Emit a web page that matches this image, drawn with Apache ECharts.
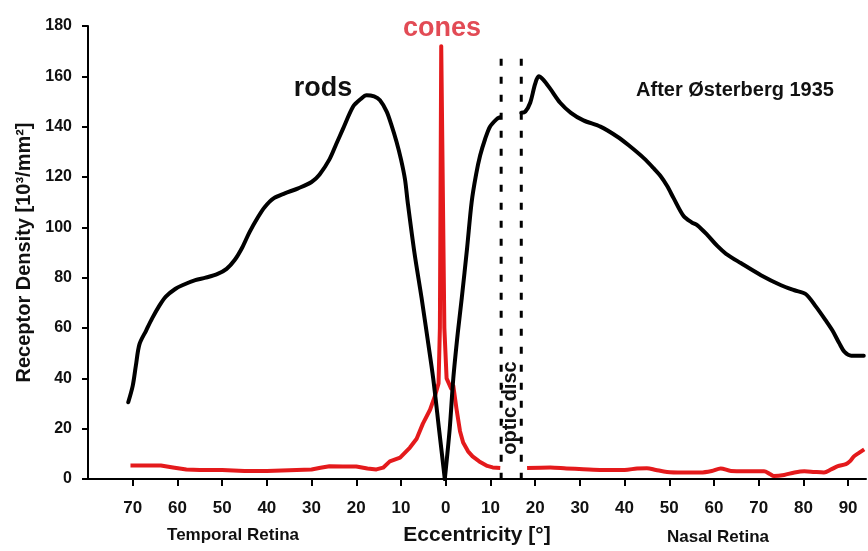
<!DOCTYPE html>
<html>
<head>
<meta charset="utf-8">
<script src="https://cdn.jsdelivr.net/npm/echarts@6/dist/echarts.min.js"></script>
<style>
html,body{margin:0;padding:0;background:#fff;}
#chart{width:868px;height:551px;}
</style>
</head>
<body>
<div id="chart"></div>
<script>
// Eccentricity in degrees: temporal retina negative, nasal retina positive
var xTicks = [-70, -60, -50, -40, -30, -20, -10, 0, 10, 20, 30, 40, 50, 60, 70, 80, 90];
var yTicks = [0, 20, 40, 60, 80, 100, 120, 140, 160, 180];

// Rods density [10^3/mm^2]
var rodsTemporal = [
  [-71, 30.5], [-70, 37], [-69.3, 45], [-68.5, 53.5], [-67, 59], [-65.6, 64], [-64, 69],
  [-62.6, 72.5], [-60.5, 75.5], [-58.9, 77], [-56, 79], [-53.7, 80], [-51, 81.5],
  [-49, 83.5], [-47.2, 87], [-45.5, 92], [-43.9, 98], [-42, 104], [-40.5, 108],
  [-38.5, 111.5], [-36, 113.5], [-33, 115.5], [-30, 118], [-28.2, 121], [-26, 127],
  [-24.5, 133], [-23, 139], [-20.7, 148], [-19, 151], [-17.7, 152.5], [-16, 152],
  [-14.7, 150.5], [-13.2, 146], [-12.2, 141], [-11, 134], [-10, 127], [-9.1, 119],
  [-8.5, 110], [-7, 90], [-5.4, 72], [-4, 55], [-2.8, 40], [-1.5, 20], [-0.2, 0]
];
var rodsFoveaNasal = [
  [-0.2, 0], [0.9, 20], [1.7, 40], [2.7, 58], [3.6, 72], [4.8, 92], [5.8, 110],
  [6.8, 121], [7.7, 128.5], [8.8, 135], [9.9, 140], [11.4, 143], [12.1, 143.7]
];
var rodsNasal = [
  [16.9, 145.5], [17.8, 146], [18.9, 149.5], [20, 157], [20.8, 160], [21.8, 158.7],
  [23.4, 155], [25.6, 149.5], [28, 145.5], [30.8, 142.5], [34.6, 140], [38.4, 136],
  [41, 132.5], [44.3, 127.5], [46.5, 123.5], [48, 120.5], [49.5, 116.5], [51, 111.5],
  [53.2, 104.5], [55, 102], [56.3, 100.8], [58.5, 97], [60.8, 92.5], [62.7, 89.5],
  [66, 85.8], [70.5, 81], [75, 77], [78, 75], [80.5, 73.5], [82.8, 68.5], [85, 63],
  [86.5, 59], [88, 54], [89.2, 50.5], [90.7, 49], [93.5, 49]
];

// Cones density [10^3/mm^2]
var conesTemporal = [
  [-70.5, 5.4], [-67, 5.4], [-63.7, 5.4], [-61, 4.6], [-58, 3.8], [-55, 3.6], [-50, 3.6],
  [-45, 3.2], [-40, 3.2], [-35, 3.5], [-30, 3.8], [-28, 4.5], [-26, 5.1], [-23, 5.0],
  [-20, 5.0], [-17.5, 4.2], [-15.5, 3.8], [-14, 4.5], [-12.5, 7], [-10.2, 8.5],
  [-8, 12.5], [-6.5, 16], [-5.1, 22], [-3.5, 27.5], [-2.4, 33], [-1.6, 38], [-1.3, 60],
  [-1.0, 172], [-0.6, 172], [-0.3, 60], [0.2, 40], [1.2, 36], [1.7, 37], [2.4, 28], [3.2, 19],
  [3.9, 14.5], [5, 11], [6, 9], [7.5, 7], [9.3, 5.2], [10.5, 4.6], [12.2, 4.4]
];
var conesNasal = [
  [18.2, 4.4], [23.4, 4.6], [27, 4.2], [30.8, 3.9], [35, 3.6], [40, 3.6], [42.8, 4.2],
  [45, 4.3], [47, 3.6], [49.5, 2.8], [53, 2.6], [57, 2.6], [59.5, 3.2], [61.5, 4.2],
  [63.8, 3.2], [67, 3.1], [71.2, 3.1], [72.5, 2], [73.4, 1.2], [75.7, 1.6], [78, 2.6],
  [80.2, 3.1], [82.5, 2.8], [84.6, 2.6], [86.2, 3.8], [87.7, 5.1], [89.5, 5.9],
  [90.5, 7.2], [91.3, 9], [92.5, 10.5], [93.6, 11.8]
];

// Optic disc edges (degrees) and height of the dotted marker lines
var opticDiscEdges = [12.4, 16.9];
var opticDiscTop = 167;

var FONT = 'Liberation Sans, Arial, Helvetica, sans-serif';
var chart = echarts.init(document.getElementById('chart'), null, {renderer: 'canvas'});

function discLine(x) {
  return {
    type: 'line', data: [[x, opticDiscTop], [x, 0]], symbol: 'none', silent: true,
    lineStyle: {color: '#000', width: 3, type: [7, 11], cap: 'butt'}, z: 1
  };
}
function rodSeries(d, s) {
  return {type: 'line', name: 'rods', data: d, symbol: 'none', z: 3, smooth: s,
    lineStyle: {color: '#000', width: 4, join: 'round', cap: 'round'}};
}

var option = {
  animation: false,
  backgroundColor: '#fff',
  grid: {left: 88, right: 2, top: 26, bottom: 68, containLabel: false},
  xAxis: {
    type: 'value', min: -80, max: 94,
    axisLine: {onZero: false, lineStyle: {color: '#000', width: 2}},
    axisTick: {show: true, length: 7, lineStyle: {color: '#000', width: 2}, customValues: xTicks},
    axisLabel: {
      customValues: xTicks, margin: 21,
      fontFamily: FONT, fontWeight: 'bold', fontSize: 17, color: '#111',
      formatter: function (v) { return String(Math.abs(v)); }
    },
    splitLine: {show: false},
    name: 'Eccentricity [°]', nameLocation: 'middle', nameGap: 46,
    nameTextStyle: {fontFamily: FONT, fontWeight: 'bold', fontSize: 21, color: '#111'}
  },
  yAxis: {
    type: 'value', min: 0, max: 180, interval: 20,
    axisLine: {show: true, onZero: false, lineStyle: {color: '#000', width: 2}},
    axisTick: {show: true, length: 6, lineStyle: {color: '#000', width: 2}},
    axisLabel: {
      margin: 16, fontFamily: FONT, fontWeight: 'bold', fontSize: 16, color: '#111',
      customValues: yTicks
    },
    splitLine: {show: false},
    name: 'Receptor Density [10³/mm²]', nameLocation: 'middle', nameGap: 54, nameRotate: 90,
    nameTextStyle: {fontFamily: FONT, fontWeight: 'bold', fontSize: 20, color: '#111'}
  },
  series: [
    {type: 'line', name: 'cones', data: conesTemporal, symbol: 'none', z: 2,
     lineStyle: {color: '#e41a1c', width: 4, join: 'round'}},
    {type: 'line', name: 'cones', data: conesNasal, symbol: 'none', z: 2, smooth: 0.3,
     lineStyle: {color: '#e41a1c', width: 4, join: 'round'}},
    rodSeries(rodsTemporal, 0.3),
    rodSeries(rodsFoveaNasal, 0.3),
    rodSeries(rodsNasal, 0.3),
    discLine(opticDiscEdges[0]),
    discLine(opticDiscEdges[1])
  ],
  graphic: [
    {type: 'text', x: 323, y: 89, style: {text: 'rods', fill: '#111',
      font: 'bold 27px ' + FONT, align: 'center', verticalAlign: 'middle'}},
    {type: 'text', x: 442, y: 29, style: {text: 'cones', fill: '#e24b55',
      font: 'bold 27px ' + FONT, align: 'center', verticalAlign: 'middle'}},
    {type: 'text', x: 735, y: 90, style: {text: 'After Østerberg 1935', fill: '#111',
      font: 'bold 20px ' + FONT, align: 'center', verticalAlign: 'middle'}},
    {type: 'text', x: 510, y: 408, rotation: Math.PI / 2, style: {text: 'optic disc', fill: '#111',
      font: 'bold 20px ' + FONT, align: 'center', verticalAlign: 'middle'}},
    {type: 'text', x: 233, y: 535.5, style: {text: 'Temporal Retina', fill: '#111',
      font: 'bold 17px ' + FONT, align: 'center', verticalAlign: 'middle'}},
    {type: 'text', x: 718, y: 537.5, style: {text: 'Nasal Retina', fill: '#111',
      font: 'bold 17px ' + FONT, align: 'center', verticalAlign: 'middle'}}
  ]
};
chart.setOption(option);
</script>
</body>
</html>
